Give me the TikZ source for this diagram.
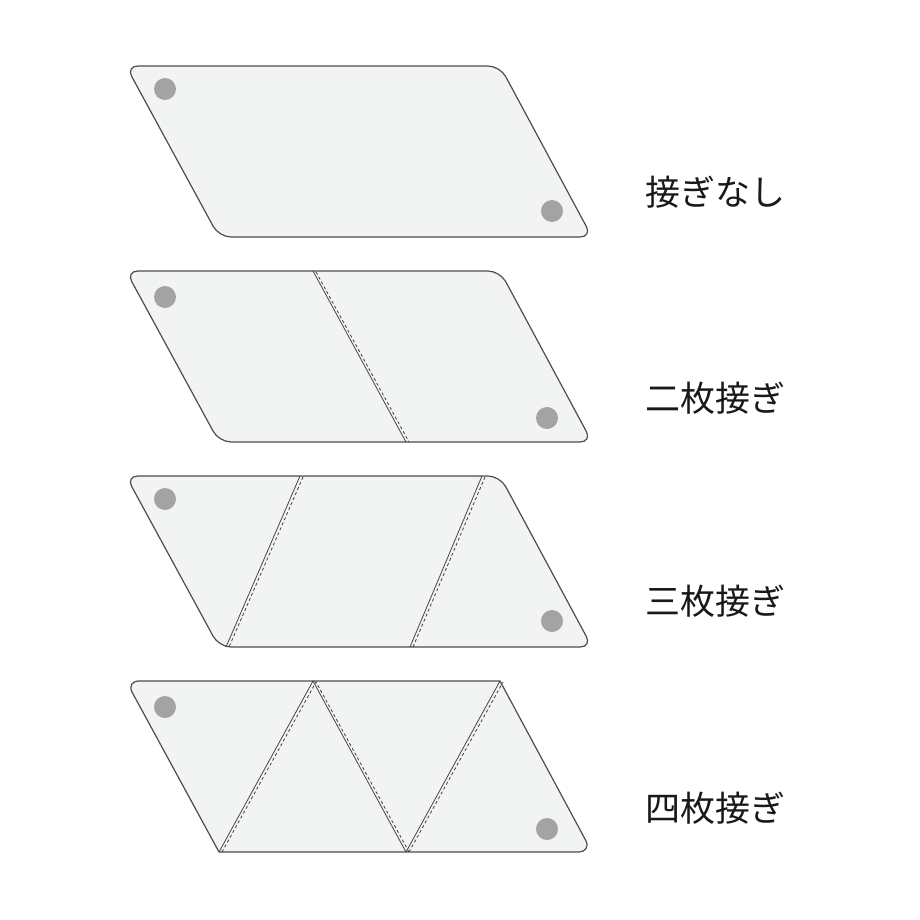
\documentclass[tikz,border=0pt]{standalone}
\usepackage{fontspec}
\newfontfamily\jpfont{Noto Sans CJK JP}
\usepackage{tikz}
\definecolor{panelfill}{HTML}{F2F3F3}
\definecolor{paneledge}{HTML}{4D4D4D}
\definecolor{holegray}{HTML}{A3A3A3}

\begin{document}
\begin{tikzpicture}[x=1pt,y=-1pt,
  panel/.style={fill=panelfill,draw=paneledge,line width=1.2pt,line join=round},
  seam/.style={draw=paneledge!90!black,line width=0.8pt},
  stitch/.style={draw=paneledge!80!black,line width=0.8pt,dash pattern=on 3pt off 2.5pt},
  hole/.style={fill=holegray},
  label/.style={anchor=west,inner sep=0pt,text=black!90,font=\jpfont\fontsize{35}{40}\selectfont}]
\useasboundingbox (0,0) rectangle (920,920);
% no seam
\draw[panel,rounded corners=12pt] (126,66) -- (500,66) -- (592,237) -- (219,237) -- cycle;
\fill[hole] (165,89) circle (11);
\fill[hole] (552,211) circle (11);
\node[label] (plain) at (645,192) {接ぎなし};
% two pieces
\draw[panel,rounded corners=12pt] (126,271) -- (500,271) -- (592,442) -- (219,442) -- cycle;
\draw[seam] (313,271) -- (406,442);
\draw[stitch] (316,272) -- (409,442);
\fill[hole] (165,297) circle (11);
\fill[hole] (547,418) circle (11);
\node[label] (two) at (645,398) {二枚接ぎ};
% three pieces
\draw[panel,rounded corners=12pt] (126,476) -- (500,476) -- (592,647) -- (219,647) -- cycle;
\draw[seam] (300,476) -- (226,647);
\draw[stitch] (303,477) -- (229,647);
\draw[seam] (482,476) -- (410,647);
\draw[stitch] (485,477) -- (413,647);
\fill[hole] (165,499) circle (11);
\fill[hole] (552,621) circle (11);
\node[label] (three) at (645,601) {三枚接ぎ};
% four pieces (round only at the hole corners)
\draw[panel] (219,852) -- (132.2,692.4) .. controls (128.8,686.1) and (131.85,681) .. (139,681) -- (500,681)
  -- (585.8,840.5) .. controls (589.2,846.8) and (585.2,852) .. (579,852) -- cycle;
\draw[seam] (219,852) -- (313,681) -- (406,852) -- (500,681);
\draw[stitch] (222,852) -- (316,682) -- (409,852);
\draw[stitch] (409,852) -- (503,682);
\fill[hole] (165,707) circle (11);
\fill[hole] (547,829) circle (11);
\node[label] (four) at (645,808) {四枚接ぎ};
\end{tikzpicture}
\end{document}
